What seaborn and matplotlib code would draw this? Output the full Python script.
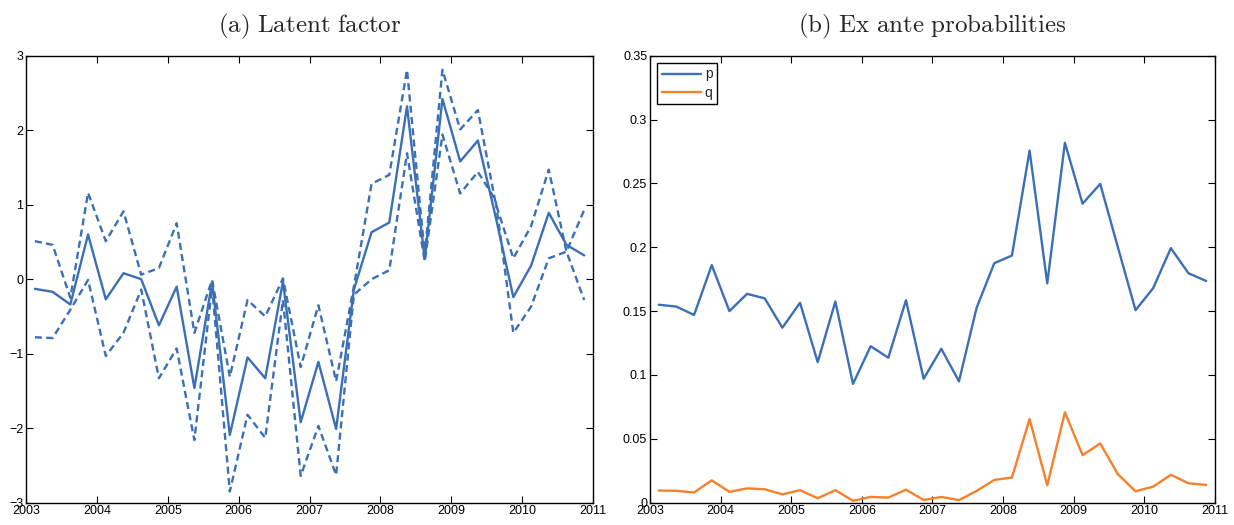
import matplotlib

matplotlib.use("Agg")
import matplotlib.pyplot as plt
import numpy as np
import pandas as pd
import seaborn as sns
from matplotlib.ticker import FuncFormatter, MultipleLocator

# Quarterly observations, 2003Q1 .. 2010Q4 (plotted at mid-quarter)
quarters = [f"{y}Q{q}" for y in range(2003, 2011) for q in range(1, 5)]

factor_mid = [
    -0.13, -0.17, -0.34, 0.60, -0.27, 0.08, 0.00, -0.62,
    -0.10, -1.46, -0.04, -2.09, -1.05, -1.33, -0.03, -1.92,
    -1.11, -2.01, -0.14, 0.63, 0.76, 2.32, 0.27, 2.42,
    1.58, 1.86, 0.84, -0.24, 0.18, 0.89, 0.46, 0.32,
]
factor_upper = [
    0.51, 0.46, -0.25, 1.16, 0.51, 0.91, 0.06, 0.15,
    0.75, -0.72, -0.01, -1.31, -0.28, -0.50, 0.01, -1.18,
    -0.35, -1.37, -0.10, 1.28, 1.40, 2.81, 0.33, 2.81,
    2.01, 2.27, 1.02, 0.28, 0.71, 1.47, 0.37, 0.93,
]
factor_lower = [
    -0.78, -0.79, -0.41, -0.01, -1.03, -0.72, -0.14, -1.33,
    -0.93, -2.16, -0.10, -2.85, -1.82, -2.13, -0.28, -2.64,
    -1.97, -2.63, -0.21, 0.00, 0.12, 1.69, 0.24, 1.94,
    1.15, 1.44, 1.06, -0.72, -0.37, 0.28, 0.37, -0.28,
]

prob_p = [
    0.155, 0.1535, 0.147, 0.186, 0.150, 0.1635, 0.160, 0.137,
    0.1565, 0.110, 0.1575, 0.093, 0.1225, 0.1135, 0.1585, 0.097,
    0.1205, 0.095, 0.1526, 0.1875, 0.1935, 0.2757, 0.1717, 0.2818,
    0.2341, 0.2496, 0.200, 0.1507, 0.168, 0.1993, 0.1796, 0.1736,
]
prob_q = [
    0.0095, 0.0093, 0.008, 0.0175, 0.0085, 0.0112, 0.0105, 0.0065,
    0.0098, 0.0035, 0.0098, 0.0015, 0.0045, 0.004, 0.0102, 0.0021,
    0.0045, 0.002, 0.0092, 0.0178, 0.0197, 0.0655, 0.0136, 0.0708,
    0.0372, 0.0464, 0.0223, 0.0089, 0.0126, 0.0218, 0.0152, 0.0139,
]

BLUE = "#3b6fb6"
ORANGE = "#f7812b"

sns.set_style("ticks")
plt.rcParams["font.family"] = ["Liberation Sans", "DejaVu Sans"]
plt.rcParams["mathtext.fontset"] = "cm"

t = [int(s[:4]) + (int(s[-1]) - 1) / 4 + 0.125 for s in quarters]
df = pd.DataFrame(
    {
        "t": t,
        "mid": factor_mid,
        "upper": factor_upper,
        "lower": factor_lower,
        "p": prob_p,
        "q": prob_q,
    }
)

fig = plt.figure(figsize=(12.34, 5.25), dpi=100)
ax1 = fig.add_axes([0.0211, 0.0425, 0.4595, 0.8515])
ax2 = fig.add_axes([0.5267, 0.0425, 0.4579, 0.8515])

lw = 1.7
sns.lineplot(data=df, x="t", y="mid", ax=ax1, color=BLUE, lw=lw)
for col in ["upper", "lower"]:
    sns.lineplot(data=df, x="t", y=col, ax=ax1, color=BLUE, lw=lw,
                 linestyle=(0, (3.0, 1.8)))

sns.lineplot(data=df, x="t", y="p", ax=ax2, color=BLUE, lw=lw, label="p")
sns.lineplot(data=df, x="t", y="q", ax=ax2, color=ORANGE, lw=lw, label="q")

ax1.set_ylim(-3, 3)
ax1.yaxis.set_major_locator(MultipleLocator(1))
ax2.set_ylim(0, 0.35)
ax2.yaxis.set_major_locator(MultipleLocator(0.05))
ax2.yaxis.set_major_formatter(FuncFormatter(lambda v, _: f"{v:.2f}".rstrip("0").rstrip(".")))

for ax in (ax1, ax2):
    ax.set_xlim(2003, 2011)
    ax.xaxis.set_major_locator(MultipleLocator(1))
    ax.xaxis.set_major_formatter(FuncFormatter(lambda v, _: f"{int(round(v))}"))
    ax.set_xlabel("")
    ax.set_ylabel("")
    ax.tick_params(direction="in", top=True, right=True, length=5, width=0.8,
                   labelsize=9, pad=2, colors="black")
    for s in ax.spines.values():
        s.set_visible(True)
        s.set_linewidth(1.0)
        s.set_color("black")

ax1.set_title(r"$\mathrm{(a)\ Latent\ factor}$", fontsize=18, pad=17)
ax2.set_title(r"$\mathrm{(b)\ Ex\ ante\ probabilities}$", fontsize=18, pad=17)

leg = ax2.legend(loc="upper left", fontsize=10, handlelength=2.8, handletextpad=0.3,
                 borderpad=0.35, labelspacing=0.3, fancybox=False, framealpha=1,
                 borderaxespad=0.5)
leg.get_frame().set_edgecolor("black")
leg.get_frame().set_linewidth(1.0)

fig.savefig("out.png", dpi=100)
